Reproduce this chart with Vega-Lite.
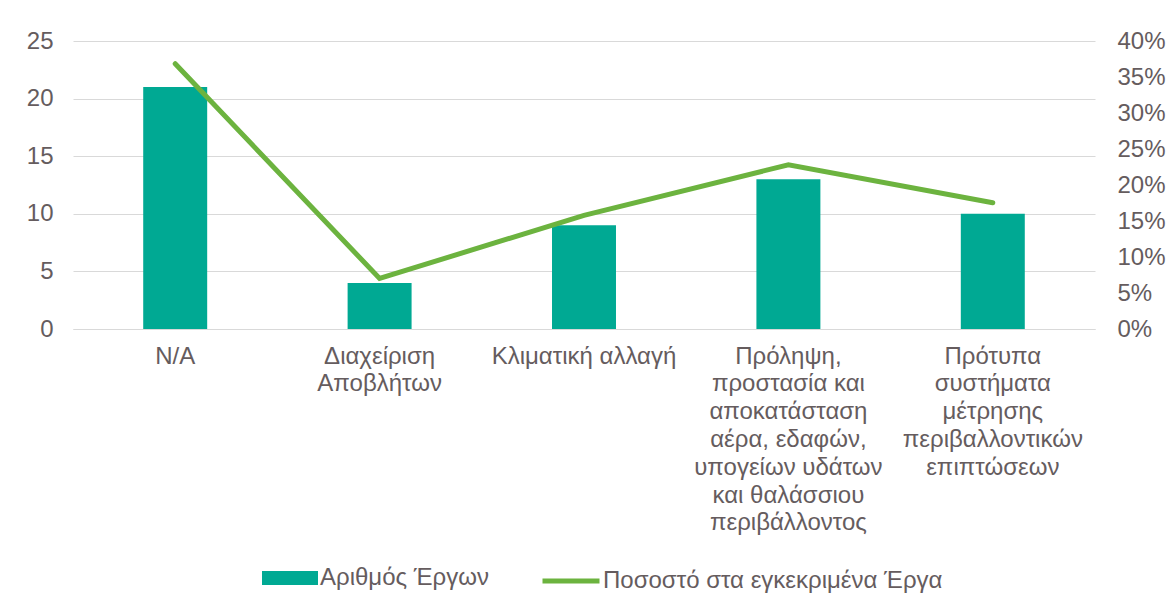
{
  "$schema": "https://vega.github.io/schema/vega-lite/v6.json",
  "width": 1022,
  "height": 288,
  "autosize": {"type": "none"},
  "padding": {"left": 73, "top": 41, "right": 79, "bottom": 279},
  "background": "#ffffff",
  "config": {
    "view": {"stroke": null},
    "font": "Liberation Sans",
    "axis": {"labelFont": "Liberation Sans", "labelFontSize": 24, "labelColor": "#655c5e", "titleColor": "#655c5e"},
    "legend": {"labelFont": "Liberation Sans", "labelFontSize": 24, "labelColor": "#655c5e", "labelLimit": 700}
  },
  "data": {
    "values": [
      {"cat": "N/A", "order": 1, "count": 21, "pct": 0.3684},
      {"cat": "Διαχείριση|Αποβλήτων", "order": 2, "count": 4, "pct": 0.0702},
      {"cat": "Κλιματική αλλαγή", "order": 3, "count": 9, "pct": 0.1579},
      {"cat": "Πρόληψη,|προστασία και|αποκατάσταση|αέρα, εδαφών,|υπογείων υδάτων|και θαλάσσιου|περιβάλλοντος", "order": 4, "count": 13, "pct": 0.2281},
      {"cat": "Πρότυπα|συστήματα|μέτρησης|περιβαλλοντικών|επιπτώσεων", "order": 5, "count": 10, "pct": 0.1754}
    ]
  },
  "encoding": {
    "x": {
      "field": "cat",
      "type": "nominal",
      "sort": {"field": "order"},
      "scale": {"paddingInner": 0.687, "paddingOuter": 0.3435},
      "axis": {
        "title": null,
        "labelAngle": 0,
        "labelExpr": "split(datum.label, '|')",
        "labelLineHeight": 27.8,
        "labelPadding": 15,
        "ticks": false,
        "domainColor": "#d9d9d9",
        "domainWidth": 1,
        "labelLimit": 300
      }
    }
  },
  "layer": [
    {
      "mark": {"type": "bar", "color": "#00a993"},
      "encoding": {
        "y": {
          "field": "count",
          "type": "quantitative",
          "scale": {"domain": [0, 25], "nice": false},
          "axis": {
            "title": null,
            "values": [0, 5, 10, 15, 20, 25],
            "grid": true,
            "gridColor": "#d9d9d9",
            "domain": false,
            "ticks": false,
            "labelPadding": 20
          }
        },
        "fill": {
          "datum": "Αριθμός Έργων",
          "scale": {"range": ["#00a993"]},
          "legend": {
            "title": null,
            "orient": "none",
            "legendX": 189,
            "legendY": 509,
            "symbolType": "M-1,-0.25H1V0.25H-1Z",
            "symbolSize": 3136,
            "symbolStrokeWidth": 0,
            "labelOffset": 2
          }
        }
      }
    },
    {
      "mark": {"type": "line", "color": "#6cb33f", "strokeWidth": 5, "strokeCap": "round"},
      "encoding": {
        "y": {
          "field": "pct",
          "type": "quantitative",
          "scale": {"domain": [0, 0.4], "nice": false},
          "axis": {
            "title": null,
            "orient": "right",
            "values": [0, 0.05, 0.1, 0.15, 0.2, 0.25, 0.3, 0.35, 0.4],
            "format": ".0%",
            "grid": false,
            "domain": false,
            "ticks": false,
            "labelPadding": 22
          }
        },
        "stroke": {
          "datum": "Ποσοστό στα εγκεκριμένα Έργα",
          "scale": {"range": ["#6cb33f"]},
          "legend": {
            "title": null,
            "orient": "none",
            "legendX": 467,
            "legendY": 509,
            "symbolType": "stroke",
            "symbolSize": 3249,
            "symbolStrokeWidth": 5,
            "labelOffset": 1
          }
        }
      }
    }
  ],
  "resolve": {"scale": {"y": "independent"}}
}
